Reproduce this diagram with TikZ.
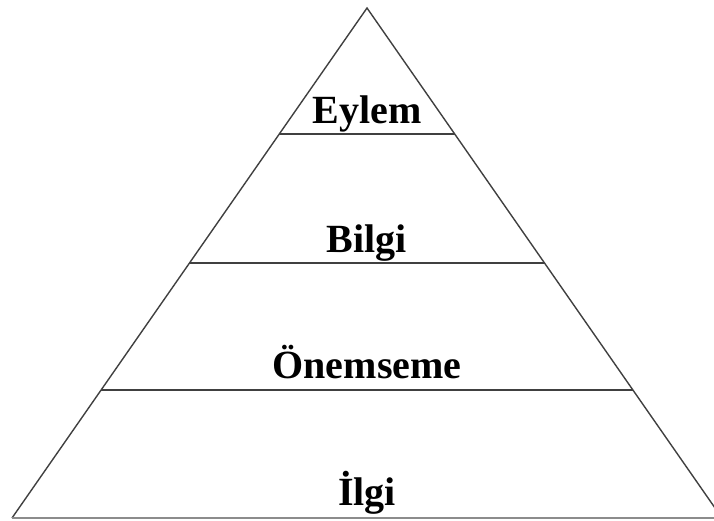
\documentclass[tikz,border=0pt]{standalone}
\usepackage{fontspec}
\setmainfont{Liberation Serif}
\tikzset{
  edge/.style={draw=black!75, line width=1.4pt},
  level/.style={font=\fontsize{40}{44}\selectfont\bfseries, anchor=base, inner sep=0pt}
}
\begin{document}
\begin{tikzpicture}[x=1pt,y=-1pt]
\useasboundingbox (0,0) rectangle (714,520);
\clip (0,0) rectangle (714,520);
\coordinate (apex) at (367,8);
\coordinate (bl) at (12,518);
\coordinate (br) at (722,518);
\draw[edge, line join=miter] (bl) -- (apex) -- (br);
\draw[edge, draw=black!45] (bl) -- (br);
\coordinate (l1) at (279,134); \coordinate (r1) at (455,134);
\coordinate (l2) at (189.5,263); \coordinate (r2) at (544.5,263);
\coordinate (l3) at (101,390); \coordinate (r3) at (633,390);
\draw[edge] (l1) -- (r1);
\draw[edge] (l2) -- (r2);
\draw[edge] (l3) -- (r3);
\node[level] (eylem) at (367,123) {Eylem};
\node[level] (bilgi) at (367,252) {Bilgi};
\node[level] (onem) at (367,378) {Önemseme};
\node[level] (ilgi) at (367,505) {İlgi};
\end{tikzpicture}
\end{document}
